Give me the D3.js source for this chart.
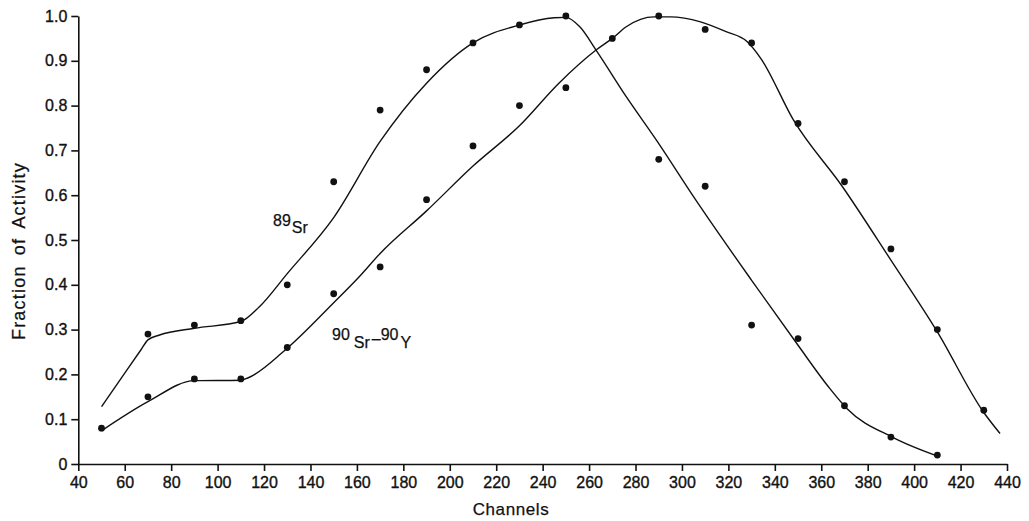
<!DOCTYPE html>
<html>
<head>
<meta charset="utf-8">
<script src="https://cdn.jsdelivr.net/npm/d3@7"></script>
<style>
  body { margin: 0; background: #fff; }
  svg { display: block; font-family: "Liberation Sans", Arial, sans-serif; }
  .axis path, .axis line { stroke: #111; stroke-width: 1.6; }
  .axis text { font-size: 16px; fill: #111; stroke: #111; stroke-width: 0.35; }
  .lbl { fill: #111; stroke: #111; stroke-width: 0.25; }
</style>
</head>
<body>
<svg id="chart" width="1029" height="521"></svg>
<script>
// measured points, channel vs fraction of activity
const sr89Channels = [70, 90, 110, 130, 150, 170, 190, 210, 230, 250, 290, 310, 330, 350, 370, 390, 410];
const sr89Values   = [0.29, 0.31, 0.32, 0.40, 0.63, 0.79, 0.88, 0.94, 0.98, 1.0, 0.68, 0.62, 0.31, 0.28, 0.13, 0.06, 0.02];

const sr90Channels = [50, 70, 90, 110, 130, 150, 170, 190, 210, 230, 250, 270, 290, 310, 330, 350, 370, 390, 410, 430];
const sr90Values   = [0.08, 0.15, 0.19, 0.19, 0.26, 0.38, 0.44, 0.59, 0.71, 0.80, 0.84, 0.95, 1.0, 0.97, 0.94, 0.76, 0.63, 0.48, 0.30, 0.12];

// hand-drawn fit curves, knots
const sr89FitChannels = [50, 60, 67, 70, 75, 90, 110, 118, 130, 150, 170, 190, 210, 230, 245, 250, 256, 263, 276, 289, 306, 330, 350, 363, 371, 391, 411];
const sr89FitValues   = [0.128, 0.203, 0.255, 0.277, 0.288, 0.303, 0.318, 0.351, 0.425, 0.55, 0.72, 0.85, 0.94, 0.98, 0.996, 0.997, 0.976, 0.924, 0.82, 0.723, 0.589, 0.41, 0.265, 0.173, 0.124, 0.059, 0.016];

const sr90FitChannels = [50, 70, 90, 110, 113, 129, 150, 161, 170, 190, 210, 230, 247, 263, 270, 276, 288, 295, 308, 319, 328, 334, 348, 369, 390, 410, 430, 437];
const sr90FitValues   = [0.074, 0.139, 0.186, 0.187, 0.192, 0.254, 0.36, 0.418, 0.47, 0.565, 0.665, 0.755, 0.85, 0.924, 0.95, 0.976, 0.998, 0.998, 0.987, 0.965, 0.943, 0.905, 0.768, 0.62, 0.455, 0.295, 0.115, 0.068];

const xTicks = d3.range(40, 441, 20);
const yTicks = d3.range(0, 11).map(d => d / 10);

const svg = d3.select("#chart");
svg.append("rect").attr("width", 1029).attr("height", 521).attr("fill", "#fff");

const x = d3.scaleLinear().domain([40, 440]).range([78.3, 1007]);
const y = d3.scaleLinear().domain([0, 1]).range([464, 16]);

svg.append("g").attr("class", "axis")
    .attr("transform", "translate(0,464)")
    .call(d3.axisBottom(x).tickValues(xTicks).tickSize(7).tickPadding(5.5).tickSizeOuter(0));

svg.append("g").attr("class", "axis")
    .attr("transform", "translate(78.3,0)")
    .call(d3.axisLeft(y).tickValues(yTicks).tickSize(7).tickPadding(4).tickSizeOuter(0)
        .tickFormat(d => d === 0 ? "0" : d3.format(".1f")(d)));

svg.selectAll(".axis .domain").attr("stroke-width", 1.8);

const line = d3.line()
    .x(d => x(d[0]))
    .y(d => y(d[1]))
    .curve(d3.curveMonotoneX);

const fits = [
    d3.zip(sr89FitChannels, sr89FitValues),
    d3.zip(sr90FitChannels, sr90FitValues)
];

svg.append("g").selectAll("path")
    .data(fits).join("path")
    .attr("d", line)
    .attr("fill", "none")
    .attr("stroke", "#111")
    .attr("stroke-width", 1.4);

const points = d3.zip(sr89Channels, sr89Values).concat(d3.zip(sr90Channels, sr90Values));
svg.append("g").selectAll("circle")
    .data(points).join("circle")
    .attr("cx", d => x(d[0]))
    .attr("cy", d => y(d[1]))
    .attr("r", 3.4)
    .attr("fill", "#111");

// axis titles
svg.append("text").attr("class", "lbl")
    .attr("x", 511).attr("y", 515)
    .attr("text-anchor", "middle")
    .attr("font-size", 17)
    .attr("letter-spacing", 0.6)
    .text("Channels");

svg.append("text").attr("class", "lbl")
    .attr("transform", "translate(25,251) rotate(-90)")
    .attr("text-anchor", "middle")
    .attr("font-size", 18)
    .attr("letter-spacing", 1.2)
    .attr("word-spacing", 4)
    .text("Fraction of Activity");

// series labels with raised mass numbers
const lab1 = svg.append("text").attr("class", "lbl").attr("x", 273).attr("y", 226).attr("font-size", 16);
lab1.append("tspan").text("89");
lab1.append("tspan").attr("dy", 7).attr("dx", 1).text("Sr");

const lab2 = svg.append("text").attr("class", "lbl").attr("x", 332).attr("y", 340).attr("font-size", 16);
lab2.append("tspan").text("90");
lab2.append("tspan").attr("dy", 8).attr("dx", 4).text("Sr");
lab2.append("tspan").attr("dy", -4).attr("dx", 2).text("\u2013");
lab2.append("tspan").attr("dy", -4).text("90");
lab2.append("tspan").attr("dy", 8).attr("dx", 2).text("Y");
</script>
</body>
</html>
